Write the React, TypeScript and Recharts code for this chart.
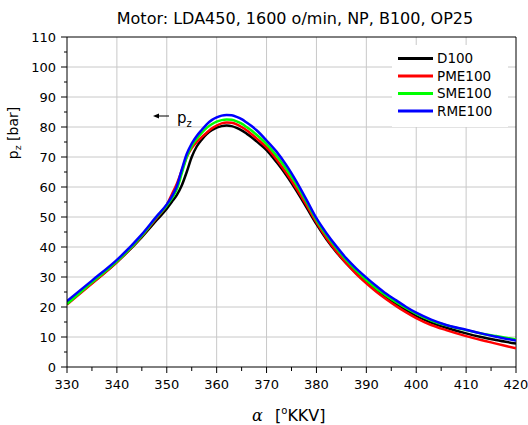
import React from 'react';
import { LineChart, Line, XAxis, YAxis, CartesianGrid, ReferenceLine, Customized } from 'recharts';

const angles = [330, 335, 340, 345, 348, 350, 351, 352, 353, 354, 355, 356, 357, 358, 359, 360, 361, 362, 363, 364, 365, 366, 367, 368, 370, 372, 374, 376, 378, 380, 382, 384, 386, 388, 390, 392, 394, 396, 398, 400, 403, 406, 410, 413, 416, 420];

const d100 = [21.3, 28.0, 35.0, 43.3, 49.0, 52.8, 55.0, 57.3, 60.5, 65.0, 70.0, 73.5, 75.8, 77.6, 78.9, 79.8, 80.3, 80.5, 80.3, 79.7, 78.9, 77.8, 76.6, 75.2, 72.3, 68.3, 63.8, 58.7, 53.2, 47.6, 42.6, 38.3, 34.5, 31.2, 28.3, 25.6, 23.2, 21.0, 18.9, 17.0, 14.8, 13.1, 11.2, 10.0, 9.0, 7.8];
const pme100 = [20.8, 27.8, 35.0, 43.6, 49.8, 54.0, 57.5, 61.0, 65.5, 70.0, 73.0, 75.0, 76.6, 78.1, 79.5, 80.5, 81.2, 81.5, 81.4, 80.9, 80.0, 78.9, 77.6, 76.2, 73.2, 69.2, 64.6, 59.5, 54.0, 48.2, 43.0, 38.5, 34.5, 31.0, 27.9, 25.1, 22.6, 20.3, 18.2, 16.3, 14.0, 12.3, 10.3, 9.0, 7.8, 6.2];
const sme100 = [21.0, 28.2, 35.2, 43.8, 50.0, 53.8, 56.2, 59.2, 64.5, 70.0, 73.6, 76.0, 78.0, 79.7, 80.9, 81.8, 82.3, 82.5, 82.4, 81.9, 81.1, 80.0, 78.8, 77.4, 74.3, 70.4, 65.9, 60.8, 55.0, 49.0, 44.0, 39.6, 35.6, 32.1, 29.0, 26.2, 23.8, 21.6, 19.6, 17.8, 15.5, 13.9, 12.3, 11.2, 10.3, 9.2];
const rme100 = [22.0, 28.8, 35.7, 44.2, 50.3, 54.2, 56.8, 60.2, 65.8, 71.0, 74.5, 77.0, 79.0, 80.9, 82.3, 83.2, 83.8, 84.0, 83.9, 83.4, 82.6, 81.5, 80.3, 78.9, 75.5, 71.8, 67.2, 61.8, 55.8, 49.6, 44.6, 40.2, 36.2, 32.8, 29.8, 27.0, 24.4, 22.2, 20.0, 18.1, 15.8, 14.0, 12.4, 11.2, 10.1, 8.8];

const seriesNames = ['D100', 'PME100', 'SME100', 'RME100'];
const seriesColors = ['#000000', '#ff0000', '#00ff00', '#0000ff'];
const seriesValues = [d100, pme100, sme100, rme100];

const xTicks = [330, 335, 340, 345, 350, 355, 360, 365, 370, 375, 380, 385, 390, 395, 400, 405, 410, 415, 420];
const yTicks = [0, 5, 10, 15, 20, 25, 30, 35, 40, 45, 50, 55, 60, 65, 70, 75, 80, 85, 90, 95, 100, 105, 110];
const xGrid = [340, 350, 360, 370, 380, 390, 400, 410];
const yGrid = [10, 20, 30, 40, 50, 60, 70, 80, 90, 100];

const title = 'Motor: LDA450, 1600 o/min, NP, B100, OP25';

const data = angles.map((a, i) => {
  const row: Record<string, number> = { a };
  seriesNames.forEach((n, k) => { row[n] = seriesValues[k][i]; });
  return row;
});

const FONT = '"DejaVu Sans", sans-serif';

const XTick = (props: any) => {
  const { x, y, payload } = props;
  const major = payload.value % 10 === 0;
  return (
    <g>
      <line x1={x} x2={x} y1={y} y2={y + (major ? 6 : 4)} stroke="#000" strokeWidth={1} />
      {major && (
        <text x={x} y={y + 22.3} textAnchor="middle" fontFamily={FONT} fontSize={13} fill="#000">
          {payload.value}
        </text>
      )}
    </g>
  );
};

const YTick = (props: any) => {
  const { x, y, payload } = props;
  const major = payload.value % 10 === 0;
  return (
    <g>
      <line x1={x - (major ? 6 : 3)} x2={x} y1={y} y2={y} stroke="#000" strokeWidth={1} />
      {major && (
        <text x={x - 11} y={y + 4.7} textAnchor="end" fontFamily={FONT} fontSize={13} fill="#000">
          {payload.value}
        </text>
      )}
    </g>
  );
};

const Decorations = () => (
  <g>
    <text x={295} y={24} textAnchor="middle" fontFamily={FONT} fontSize={16} fill="#000">{title}</text>
    {/* x axis label */}
    <text x={252} y={421} fontFamily='"DejaVu Serif", serif' fontStyle="italic" fontSize={16} fill="#000">α</text>
    <text x={275} y={421} fontFamily={FONT} fontSize={16} fill="#000">
      [<tspan fontSize={10} dy={-7}>o</tspan><tspan dy={7}>KKV]</tspan>
    </text>
    {/* y axis label */}
    <text x={18} y={133} transform="rotate(-90 18 133)" textAnchor="middle" fontFamily={FONT} fontSize={14} fill="#000">
      p<tspan fontSize={9.5} dy={3}>z</tspan><tspan dy={-3}> [bar]</tspan>
    </text>
    {/* annotation */}
    <line x1={158} x2={169} y1={116} y2={116} stroke="#000" strokeWidth={1} />
    <polygon points="153,116 159,113.5 159,118.5" fill="#000" />
    <text x={177} y={122.5} fontFamily={FONT} fontSize={15} fill="#000">
      p<tspan fontSize={10} dy={4}>z</tspan>
    </text>
    {/* legend */}
    <rect x={392} y={45} width={116} height={82} fill="#fff" />
    {seriesNames.map((n, i) => {
      const cy = 58.5 + i * 17.5;
      return (
        <g key={n}>
          <line x1={398} x2={433} y1={cy} y2={cy} stroke={seriesColors[i]} strokeWidth={3} />
          <text x={437} y={cy + 4.9} fontFamily={FONT} fontSize={13.5} fill="#000">{n}</text>
        </g>
      );
    })}
  </g>
);

export default function App() {
  return (
    <div style={{ position: 'absolute', left: 0, top: 0, width: 528, height: 425, background: '#fff' }}>
      <LineChart width={528} height={425} data={data} margin={{ top: 37, right: 12, bottom: 0, left: 0 }}>
        <CartesianGrid stroke="#c8c8c8" strokeWidth={1} verticalValues={xGrid} horizontalValues={yGrid} />
        <XAxis
          dataKey="a"
          type="number"
          domain={[330, 420]}
          ticks={xTicks}
          interval={0}
          tickSize={0}
          tickMargin={0}
          tickLine={false}
          tick={<XTick />}
          height={58}
          axisLine={{ stroke: '#000', strokeWidth: 1 }}
          allowDataOverflow
        />
        <YAxis
          type="number"
          domain={[0, 110]}
          ticks={yTicks}
          interval={0}
          tickSize={0}
          tickMargin={0}
          tickLine={false}
          tick={<YTick />}
          width={67}
          axisLine={{ stroke: '#000', strokeWidth: 1 }}
          allowDataOverflow
        />
        <ReferenceLine y={110} stroke="#000" strokeWidth={1} />
        <ReferenceLine x={420} stroke="#000" strokeWidth={1} />
        {seriesNames.map((n, i) => (
          <Line
            key={n}
            dataKey={n}
            type="monotone"
            stroke={seriesColors[i]}
            strokeWidth={2.5}
            dot={false}
            activeDot={false}
            isAnimationActive={false}
          />
        ))}
        <Customized component={Decorations} />
      </LineChart>
    </div>
  );
}
